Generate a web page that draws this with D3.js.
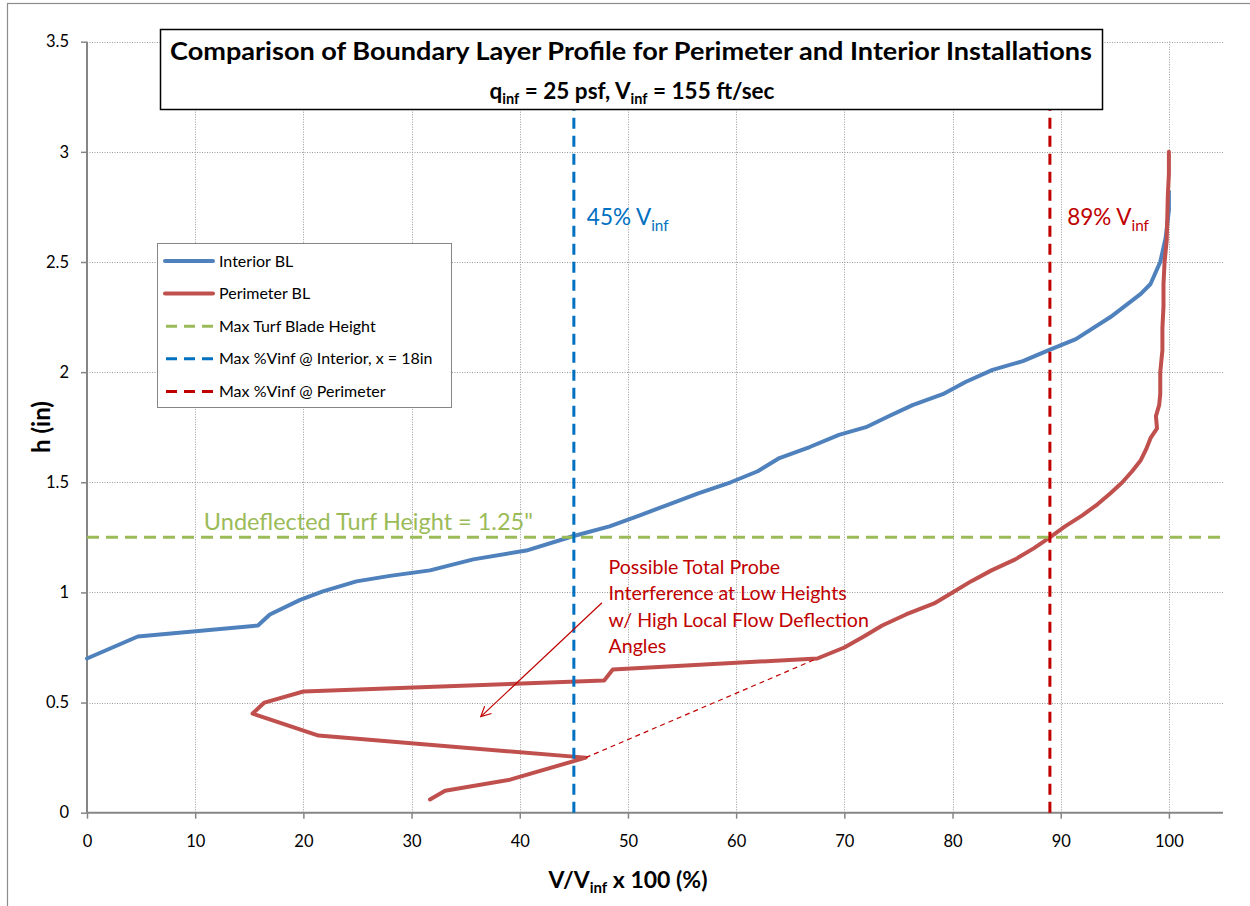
<!DOCTYPE html>
<html>
<head>
<meta charset="utf-8">
<script src="https://cdn.jsdelivr.net/npm/d3@7"></script>
<style>
  html, body { margin: 0; padding: 0; background: #fff; }
  svg { display: block; font-family: Lato, "Open Sans", "Liberation Sans", sans-serif; }
</style>
</head>
<body>
<svg id="chart" width="1250" height="906"></svg>
<script>
// Velocity ratio (% of V_inf) and height (in) for each boundary-layer traverse
const interiorV = [0, 4.7, 15.8, 16.9, 19.7, 21.8, 24.9, 28.0, 31.7, 35.7, 40.6, 44.9, 48.3, 51.1, 53.8, 56.5,
  59.5, 62.0, 64.0, 66.8, 69.5, 72.0, 74.1, 76.3, 79.1, 81.2, 83.7, 86.5, 88.9, 91.4, 94.6, 97.4,
  98.3, 99.2, 99.7, 100, 100];
const interiorH = [0.70, 0.80, 0.85, 0.90, 0.966, 1.005, 1.05, 1.075, 1.10, 1.15, 1.19, 1.255, 1.30, 1.35, 1.40, 1.45,
  1.50, 1.55, 1.61, 1.66, 1.715, 1.75, 1.80, 1.85, 1.90, 1.955, 2.01, 2.05, 2.10, 2.15, 2.25, 2.355,
  2.40, 2.50, 2.61, 2.735, 2.82];

const perimV = [31.7, 33.1, 39.1, 46.1, 21.4, 15.3, 16.4, 20.0, 47.8, 48.6, 67.5, 70.0, 71.8, 73.5, 75.7, 78.3,
  80.0, 81.7, 83.6, 85.8, 87.5, 89.0, 90.4, 92.0, 93.4, 94.6, 95.7, 96.6, 97.4, 97.9, 98.3, 98.9,
  98.8, 99.1, 99.2, 99.2, 99.4, 99.4, 99.5, 99.5, 99.6, 99.8, 99.85, 99.9, 100, 100];
const perimH = [0.06, 0.10, 0.15, 0.25, 0.35, 0.45, 0.50, 0.55, 0.60, 0.65, 0.70, 0.75, 0.80, 0.85, 0.90, 0.95,
  1.00, 1.05, 1.10, 1.15, 1.20, 1.25, 1.30, 1.35, 1.40, 1.45, 1.50, 1.55, 1.60, 1.65, 1.70, 1.745,
  1.80, 1.85, 1.90, 2.00, 2.10, 2.20, 2.30, 2.40, 2.50, 2.60, 2.70, 2.80, 2.90, 3.00];

// Reference levels
const turfHeight = 1.25;      // undeflected turf blade height (in)
const interiorMax = 45;       // max %V_inf, interior
const perimeterMax = 89;      // max %V_inf, perimeter

const xTicks = [0, 10, 20, 30, 40, 50, 60, 70, 80, 90, 100];
const yTicks = [0, 0.5, 1, 1.5, 2, 2.5, 3, 3.5];
const legendLabels = ["Interior BL", "Perimeter BL", "Max Turf Blade Height",
  "Max %Vinf @ Interior, x = 18in", "Max %Vinf @ Perimeter"];
const noteLines = ["Possible Total Probe", "Interference at Low Heights",
  "w/ High Local Flow Deflection", "Angles"];

const C = {
  interior: "#4F81BD", perimeter: "#C0504D", turf: "#9BBB59",
  blueDash: "#0070C0", redDash: "#C00000", note: "#C00000",
  axis: "#868686", grid: "#9a9a9a", text: "#000"
};

const svg = d3.select("#chart");
const x = d3.scaleLinear().domain([0, 105]).range([87, 1223]);
const y = d3.scaleLinear().domain([0, 3.5]).range([812.7, 41.7]);

// outer chart frame
svg.append("rect").attr("x", 7.5).attr("y", 3.5).attr("width", 1260).attr("height", 920)
  .attr("fill", "#fff").attr("stroke", "#8c8c8c").attr("stroke-width", 1.2);

// gridlines
const grid = svg.append("g").attr("stroke", C.grid).attr("stroke-width", 1).attr("stroke-dasharray", "1,1.5");
grid.selectAll(".gx").data(xTicks.filter(d => d > 0)).join("line")
  .attr("x1", d => Math.round(x(d)) + 0.5).attr("x2", d => Math.round(x(d)) + 0.5)
  .attr("y1", y(3.5)).attr("y2", y(0));
grid.selectAll(".gy").data(yTicks.filter(d => d > 0)).join("line")
  .attr("y1", d => Math.round(y(d)) + 0.5).attr("y2", d => Math.round(y(d)) + 0.5)
  .attr("x1", x(0)).attr("x2", x(105));

// axes
const xAxis = d3.axisBottom(x).tickValues(xTicks).tickSize(6).tickPadding(17).tickFormat(d3.format("d"));
const yAxis = d3.axisLeft(y).tickValues(yTicks).tickSize(6).tickPadding(12).tickFormat(d => String(d));
const gx = svg.append("g").attr("transform", `translate(0,${y(0)})`).call(xAxis);
const gy = svg.append("g").attr("transform", `translate(${x(0)},0)`).call(yAxis);
[gx, gy].forEach(g => {
  g.select(".domain").attr("stroke", C.axis).attr("stroke-width", 2);
  g.selectAll(".tick line").attr("stroke", C.axis).attr("stroke-width", 1.5);
  g.selectAll(".tick text").attr("fill", C.text).attr("font-size", 16.5)
    .attr("font-family", "Lato, 'Open Sans', sans-serif");
});
gy.select(".domain").attr("d", `M0,${y(3.5)}V${y(0)}`);
gx.select(".domain").attr("d", `M${x(0)},0H${x(105)}`);

// series
const line = d3.line().x(d => x(d[0])).y(d => y(d[1]));
const interior = interiorV.map((v, i) => [v, interiorH[i]]);
const perimeter = perimV.map((v, i) => [v, perimH[i]]);

svg.append("path").datum(interior).attr("d", line).attr("fill", "none")
  .attr("stroke", C.interior).attr("stroke-width", 4).attr("stroke-linejoin", "round").attr("stroke-linecap", "round");
svg.append("path").datum(perimeter).attr("d", line).attr("fill", "none")
  .attr("stroke", C.perimeter).attr("stroke-width", 4).attr("stroke-linejoin", "round").attr("stroke-linecap", "round");

// reference lines
svg.append("line").attr("x1", x(0)).attr("x2", x(105)).attr("y1", y(turfHeight)).attr("y2", y(turfHeight))
  .attr("stroke", C.turf).attr("stroke-width", 3).attr("stroke-dasharray", "12,7");
svg.append("line").attr("x1", x(interiorMax)).attr("x2", x(interiorMax)).attr("y1", y(0)).attr("y2", y(3.5))
  .attr("stroke", C.blueDash).attr("stroke-width", 3).attr("stroke-dasharray", "11,7");
svg.append("line").attr("x1", x(perimeterMax)).attr("x2", x(perimeterMax)).attr("y1", y(0)).attr("y2", y(3.5))
  .attr("stroke", C.redDash).attr("stroke-width", 3).attr("stroke-dasharray", "11,7");

// bridge over the suspect low-height readings
const a = perimeter[3], b = perimeter[10];
svg.append("line").attr("x1", x(a[0])).attr("y1", y(a[1])).attr("x2", x(b[0])).attr("y2", y(b[1]))
  .attr("stroke", C.note).attr("stroke-width", 1.2).attr("stroke-dasharray", "5,4");

// annotation arrow
svg.append("defs").append("marker").attr("id", "head").attr("viewBox", "0 0 12 12")
  .attr("refX", 11).attr("refY", 6).attr("markerWidth", 12).attr("markerHeight", 12)
  .attr("markerUnits", "userSpaceOnUse").attr("orient", "auto")
  .append("path").attr("d", "M1,1 L11,6 L1,11").attr("fill", "none").attr("stroke", C.note).attr("stroke-width", 1.2);
svg.append("line").attr("x1", x(47.6)).attr("y1", y(0.953)).attr("x2", x(36.4)).attr("y2", y(0.436))
  .attr("stroke", C.note).attr("stroke-width", 1.2).attr("marker-end", "url(#head)");

// annotation text
const note = svg.append("text").attr("fill", C.note).attr("font-size", 19.6);
noteLines.forEach((t, i) => {
  note.append("tspan").attr("x", x(48.2)).attr("y", 574 + i * 26.3).text(t);
});

// reference labels with subscripts
function subLabel(px, py, main, sub, color, size) {
  const t = svg.append("text").attr("x", px).attr("y", py).attr("fill", color).attr("font-size", size);
  t.append("tspan").text(main);
  t.append("tspan").attr("font-size", size * 0.68).attr("dy", size * 0.28).text(sub);
  return t;
}
subLabel(x(46.2), y(2.67), "45% V", "inf", C.blueDash, 22.5);
subLabel(x(90.6), y(2.67), "89% V", "inf", C.redDash, 22.5);
svg.append("text").attr("x", x(10.8)).attr("y", y(1.285)).attr("fill", C.turf).attr("font-size", 23)
  .attr("textLength", 329).attr("lengthAdjust", "spacingAndGlyphs")
  .text("Undeflected Turf Height = 1.25\"");

// axis titles
const xt = svg.append("text").attr("x", 628).attr("y", 888).attr("text-anchor", "middle")
  .attr("font-size", 23).attr("font-weight", "bold").attr("fill", C.text);
xt.append("tspan").text("V/V");
xt.append("tspan").attr("font-size", 15).attr("dy", 5).text("inf");
xt.append("tspan").attr("dy", -5).text(" x 100 (%)");

svg.append("text").attr("transform", "translate(50,427) rotate(-90)").attr("text-anchor", "middle")
  .attr("font-size", 24).attr("font-weight", "bold").attr("fill", C.text).text("h (in)");

// title box
svg.append("rect").attr("x", 160.5).attr("y", 29.5).attr("width", 942).attr("height", 80)
  .attr("fill", "#fff").attr("stroke", "#000").attr("stroke-width", 1.5);
svg.append("text").attr("x", 631).attr("y", 60).attr("text-anchor", "middle")
  .attr("font-size", 25).attr("font-weight", "bold").attr("fill", C.text)
  .attr("textLength", 922).attr("lengthAdjust", "spacingAndGlyphs")
  .text("Comparison of Boundary Layer Profile for Perimeter and Interior Installations");
const st = svg.append("text").attr("x", 632).attr("y", 99).attr("text-anchor", "middle")
  .attr("font-size", 22.5).attr("font-weight", "bold").attr("fill", C.text);
st.append("tspan").text("q");
st.append("tspan").attr("font-size", 14.5).attr("dy", 5).text("inf");
st.append("tspan").attr("dy", -5).text(" = 25 psf, V");
st.append("tspan").attr("font-size", 14.5).attr("dy", 5).text("inf");
st.append("tspan").attr("dy", -5).text(" = 155 ft/sec");

// legend
const lg = svg.append("g");
lg.append("rect").attr("x", 157.5).attr("y", 243.5).attr("width", 294).attr("height", 164)
  .attr("fill", "#fff").attr("stroke", "#868686").attr("stroke-width", 1);
const legendStyles = [
  { c: C.interior, w: 4, dash: null },
  { c: C.perimeter, w: 4, dash: null },
  { c: C.turf, w: 3, dash: "11,7" },
  { c: C.blueDash, w: 3, dash: "11,7" },
  { c: C.redDash, w: 3, dash: "11,7" }
];
legendLabels.forEach((lab, i) => {
  const cy = 261 + i * 32.6;
  const s = legendStyles[i];
  const l = lg.append("line").attr("x1", 165).attr("x2", 213).attr("y1", cy).attr("y2", cy)
    .attr("stroke", s.c).attr("stroke-width", s.w).attr("stroke-linecap", s.dash ? "butt" : "round");
  if (s.dash) l.attr("stroke-dasharray", s.dash).attr("x1", 166);
  lg.append("text").attr("x", 219).attr("y", cy + 5.5).attr("font-size", 16).attr("fill", C.text).text(lab);
});
</script>
</body>
</html>
